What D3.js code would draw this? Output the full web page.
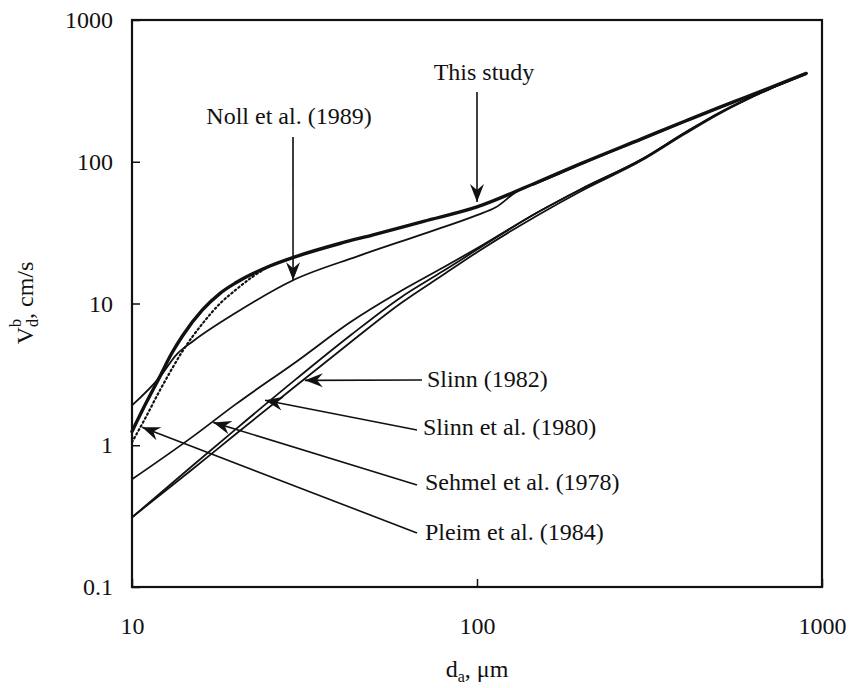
<!DOCTYPE html>
<html><head><meta charset="utf-8">
<script src="https://cdn.jsdelivr.net/npm/d3@7"></script>
<style>
body{margin:0;background:#fff}
</style>
</head><body>
<svg id="c" width="850" height="688"></svg>
<script>
// ---- data ----
const thisStudyX = [10, 11, 12, 13, 14, 16, 18, 20, 25, 30, 40, 50, 70, 100, 150, 200, 300, 400, 500, 600, 700, 800, 900];
const thisStudyY = [1.25, 2.0, 3.0, 4.4, 5.9, 9.0, 11.8, 14, 18.3, 21.5, 26.5, 30.5, 38, 48, 72, 97, 145, 193, 240, 285, 330, 375, 420];

const pleimX = [10, 11, 12, 13, 14, 16, 18, 20, 22.4, 25];
const pleimY = [1.05, 1.6, 2.4, 3.4, 4.6, 7.2, 10, 12.5, 15.5, 18.3];

const nollX = [10, 12, 13.5, 15, 20, 29.3, 45, 70, 100, 113, 131, 150, 200, 300, 400, 500, 600, 700, 800, 900];
const nollY = [1.91, 3.0, 4.4, 5.4, 8.6, 14.6, 21.5, 31, 42, 47.5, 62, 71, 96, 144, 192, 239, 284, 329, 374, 418];

const sehmelX = [10, 15, 20, 30, 43, 60, 80, 100, 150, 200, 300, 400, 500, 600, 700, 800, 900];
const sehmelY = [0.575, 1.15, 1.95, 3.9, 7.4, 12.2, 18, 24.5, 44, 64, 104, 160, 218, 272, 323, 371, 417];

const slinn80X = [10, 15, 20, 30, 43, 60, 80, 100, 150, 200, 300, 400, 500, 600, 700, 800, 900];
const slinn80Y = [0.31, 0.72, 1.3, 2.95, 5.97, 11, 17, 24, 44, 64, 104, 160, 220, 275, 325, 372, 418];

const slinn82X = [10, 15, 20, 30, 43, 60, 80, 100, 150, 200, 300, 400, 500, 600, 700, 800, 900];
const slinn82Y = [0.31, 0.68, 1.2, 2.65, 5.33, 10, 16, 23, 42, 62, 102, 157, 216, 272, 323, 370, 416];

const xTicks = [10, 100, 1000];
const yTicks = [0.1, 1, 10, 100, 1000];
const xTickLabels = ["10", "100", "1000"];
const yTickLabels = ["0.1", "1", "10", "100", "1000"];

// annotations: label, arrow tip in data units
const annLabels = ["This study", "Noll et al. (1989)", "Slinn (1982)", "Slinn et al. (1980)", "Sehmel et al. (1978)", "Pleim et al. (1984)"];
const annTipX = [100, 29.3, 31.7, 24.3, 17.2, 10.7];
const annTipY = [52, 14.6, 2.87, 2.08, 1.45, 1.34];

// ---- pick an installed serif font ----
function pickFont(cands) {
  const c = document.createElement("canvas").getContext("2d");
  const s = "Slinn et al. (1980) WMmwil 0123456789";
  const base = {};
  for (const b of ["monospace", "sans-serif"]) { c.font = "40px " + b; base[b] = c.measureText(s).width; }
  for (const f of cands) {
    let ok = false;
    for (const b of ["monospace", "sans-serif"]) {
      c.font = `40px "${f}", ${b}`;
      if (Math.abs(c.measureText(s).width - base[b]) > 0.5) ok = true;
    }
    if (ok) return `"${f}", serif`;
  }
  return "serif";
}
const FONT = pickFont(["Liberation Serif", "Times New Roman", "Tinos", "Nimbus Roman", "Nimbus Roman No9 L", "FreeSerif", "DejaVu Serif", "Noto Serif", "Times"]);

// ---- layout ----
const svg = d3.select("#c").attr("font-family", FONT);
const L = 132, R = 822, T = 20, B = 587;
const x = d3.scaleLog().domain([10, 1000]).range([L, R]);
const y = d3.scaleLog().domain([0.1, 1000]).range([B, T]);

const defs = svg.append("defs");
defs.append("marker").attr("id", "ah")
  .attr("viewBox", "-19 -8 20 16").attr("refX", 0).attr("refY", 0)
  .attr("markerWidth", 20).attr("markerHeight", 16)
  .attr("markerUnits", "userSpaceOnUse").attr("orient", "auto")
  .append("path").attr("d", "M0,0 L-18,-7 L-12,0 L-18,7 Z").attr("fill", "#111");

const line = d3.line().x(d => x(d[0])).y(d => y(d[1])).curve(d3.curveMonotoneX);
function draw(xs, ys, w, dash) {
  const p = svg.append("path").datum(xs.map((v, i) => [v, ys[i]]))
    .attr("d", line).attr("fill", "none").attr("stroke", "#111")
    .attr("stroke-width", w).attr("stroke-linejoin", "round").attr("stroke-linecap", "round");
  if (dash) p.attr("stroke-dasharray", dash);
}
draw(sehmelX, sehmelY, 1.8);
draw(slinn80X, slinn80Y, 1.8);
draw(slinn82X, slinn82Y, 1.8);
draw(nollX, nollY, 1.8);
draw(pleimX, pleimY, 2.2, "1.5,3");
draw(thisStudyX, thisStudyY, 3.4);

// frame
svg.append("rect").attr("x", L).attr("y", T).attr("width", R - L).attr("height", B - T)
  .attr("fill", "none").attr("stroke", "#111").attr("stroke-width", 2.2);

// ticks (inward)
const xAxis = d3.axisBottom(x).tickValues(xTicks).tickSize(-8).tickFormat((d, i) => xTickLabels[i]).tickPadding(30);
const gx = svg.append("g").attr("transform", `translate(0,${B})`).call(xAxis).attr("font-family", FONT).attr("font-size", 24);
gx.select(".domain").remove();
gx.selectAll("line").attr("stroke", "#111").attr("stroke-width", 1.5);
gx.selectAll("text").attr("fill", "#111");

const yAxis = d3.axisLeft(y).tickValues(yTicks).tickSize(-8).tickFormat((d, i) => yTickLabels[i]).tickPadding(19);
const gy = svg.append("g").attr("transform", `translate(${L},0)`).call(yAxis).attr("font-family", FONT).attr("font-size", 24);
gy.select(".domain").remove();
gy.selectAll("line").attr("stroke", "#111").attr("stroke-width", 1.5);
gy.selectAll("text").attr("fill", "#111");

// axis titles
const xt = svg.append("text").attr("x", 477).attr("y", 677).attr("text-anchor", "middle").attr("font-size", 24).attr("fill", "#111");
xt.append("tspan").text("d");
xt.append("tspan").attr("font-size", 16).attr("dy", 5).text("a");
xt.append("tspan").attr("dy", -5).text(", μm");

const yt = svg.append("text").attr("transform", "translate(33,303) rotate(-90)").attr("text-anchor", "middle").attr("font-size", 24).attr("fill", "#111");
yt.append("tspan").text("V");
yt.append("tspan").attr("font-size", 16).attr("dy", 5).text("d");
yt.append("tspan").attr("font-size", 16).attr("dy", -17).attr("dx", -8).text("b");
yt.append("tspan").attr("dy", 12).text(", cm/s");

// annotations
const annStartX = [477, 293, 422, 417, 417, 417];
const annStartY = [92, 137, 380, 430, 485, 533];
const annTextX = [484, 289, 427, 423, 425, 425];
const annTextY = [80, 124, 387, 435, 490, 540];
const annAnchor = ["middle", "middle", "start", "start", "start", "start"];
annLabels.forEach((lab, i) => {
  svg.append("line").attr("x1", annStartX[i]).attr("y1", annStartY[i])
    .attr("x2", x(annTipX[i])).attr("y2", y(annTipY[i]))
    .attr("stroke", "#111").attr("stroke-width", 1.6).attr("marker-end", "url(#ah)");
  svg.append("text").attr("x", annTextX[i]).attr("y", annTextY[i])
    .attr("text-anchor", annAnchor[i]).attr("font-size", 24).attr("fill", "#111").text(lab);
});
</script>
</body></html>
